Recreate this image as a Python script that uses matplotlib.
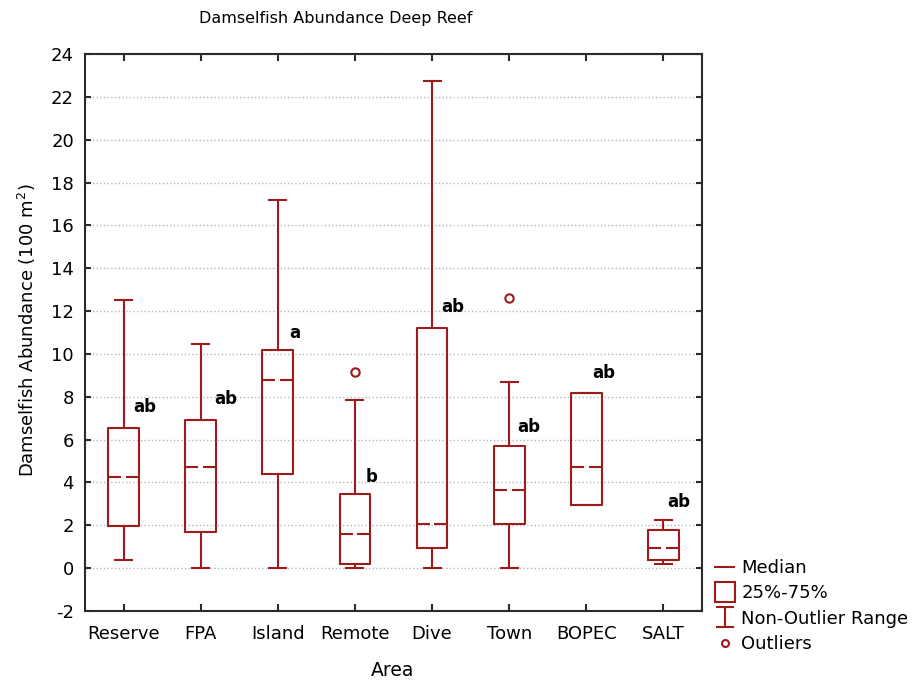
# Damselfish abundance box plot (deep reef)

from matplotlib import pyplot as plt
from matplotlib.lines import Line2D
from matplotlib.path import Path
import numpy as np

areas = ['Reserve', 'FPA', 'Island', 'Remote', 'Dive', 'Town', 'BOPEC', 'SALT']
whisker_low = [0.39, 0.0, 0.0, 0.0, 0.0, 0.0, 2.93, 0.20]
q1 = [1.99, 1.68, 4.39, 0.19, 0.93, 2.07, 2.93, 0.37]
medians = [4.25, 4.70, 8.80, 1.60, 2.07, 3.64, 4.70, 0.93]
q3 = [6.55, 6.93, 10.18, 3.47, 11.22, 5.70, 8.16, 1.79]
whisker_high = [12.54, 10.46, 17.20, 7.86, 22.72, 8.70, 8.16, 2.26]
outliers = [[], [], [], [9.17], [], [12.62], [], []]

letters = ['ab', 'ab', 'a', 'b', 'ab', 'ab', 'ab', 'ab']
letter_x = [1.13, 2.18, 3.15, 4.14, 5.12, 6.11, 7.08, 8.05]
letter_y = [7.5, 7.9, 11.0, 4.25, 12.17, 6.57, 9.1, 3.1]

red = '#9e1b1b'
dark = '#2b2b2b'

plt.rcParams['font.family'] = 'DejaVu Sans'
plt.rcParams['axes.unicode_minus'] = False

fig = plt.figure(figsize=(9.16, 6.81), dpi=100)
ax = fig.add_axes([85 / 916, 1 - 611 / 681, 617 / 916, 557 / 681])

positions = np.arange(1, len(areas) + 1)
stats = []
for i in range(len(areas)):
    stats.append({'whislo': whisker_low[i], 'q1': q1[i], 'med': medians[i],
                  'q3': q3[i], 'whishi': whisker_high[i], 'fliers': outliers[i]})

ax.bxp(stats, positions=positions, widths=0.4, capwidths=0.22,
       boxprops=dict(color=red, linewidth=1.5),
       whiskerprops=dict(color=red, linewidth=1.5),
       capprops=dict(color=red, linewidth=1.5),
       medianprops=dict(linewidth=0),
       flierprops=dict(marker='o', markersize=6, markerfacecolor='none',
                       markeredgecolor=red, markeredgewidth=1.5))

# median drawn as two halves with a small gap in the middle
for p, m in zip(positions, medians):
    ax.hlines(m, p - 0.2, p - 0.03, color=red, linewidth=1.5)
    ax.hlines(m, p + 0.03, p + 0.2, color=red, linewidth=1.5)

for x, y, t in zip(letter_x, letter_y, letters):
    ax.text(x, y, t, fontsize=12, fontweight='bold', ha='left', va='center', color='black')

ax.set_xlim(0.5, 8.5)
ax.set_ylim(-2, 24)
ax.set_yticks(np.arange(-2, 25, 2))
ax.set_xticks(positions)
ax.set_xticklabels(areas, fontsize=13)
ax.tick_params(axis='y', labelsize=13, direction='in', length=4, width=1.5, color=dark,
               right=True, pad=8)
ax.tick_params(axis='x', direction='in', length=5, width=1.5, color=dark, top=True, pad=10)
ax.yaxis.grid(True, linestyle=':', color='#b5b5b5', linewidth=1)
ax.set_axisbelow(True)
for s in ax.spines.values():
    s.set_linewidth(1.5)
    s.set_color(dark)

fig.text(336 / 916, 1 - 18 / 681, 'Damselfish Abundance Deep Reef', ha='center', va='center',
         fontsize=11.5)
fig.text(27 / 916, 1 - 330 / 681, 'Damselfish Abundance (100 m$^2$)', ha='center',
         va='center', rotation=90, fontsize=13)
fig.text(393 / 916, 1 - 670 / 681, 'Area', ha='center', va='center', fontsize=13.5)

# legend with custom symbols
range_marker = Path([(-0.9, 1), (0.9, 1), (0, 1), (0, -1), (-0.9, -1), (0.9, -1)],
                    [Path.MOVETO, Path.LINETO, Path.MOVETO, Path.LINETO, Path.MOVETO, Path.LINETO])
handles = [
    Line2D([], [], color=red, linewidth=1.5),
    Line2D([], [], linestyle='none', marker='s', markersize=14, markerfacecolor='none',
           markeredgecolor=red, markeredgewidth=1.5),
    Line2D([], [], linestyle='none', marker=range_marker, markersize=14.5, markerfacecolor='none',
           markeredgecolor=red, markeredgewidth=1.5),
    Line2D([], [], linestyle='none', marker='o', markersize=5, markerfacecolor='none',
           markeredgecolor=red, markeredgewidth=1.5),
]
labels = ['Median', '25%-75%', 'Non-Outlier Range', 'Outliers']
fig.legend(handles, labels, loc='upper left', bbox_to_anchor=(708 / 916, 1 - 552 / 681),
           frameon=False, fontsize=13, handlelength=1.05, handletextpad=0.4,
           labelspacing=0.4, borderaxespad=0)

fig.savefig('out.png', dpi=100)
